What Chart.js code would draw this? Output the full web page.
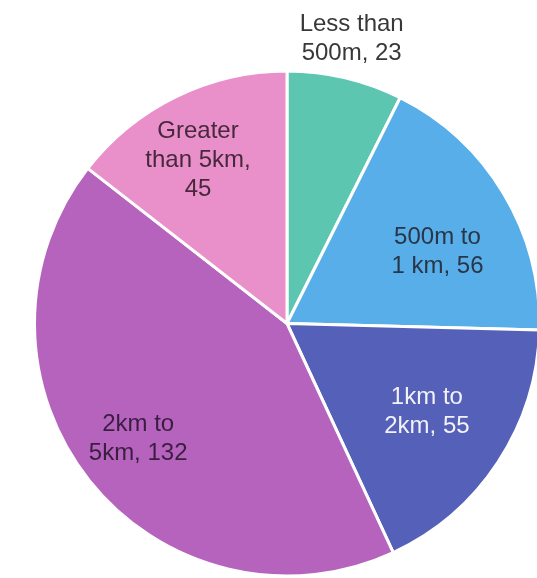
<!DOCTYPE html>
<html>
<head>
<meta charset="utf-8">
<script src="https://cdn.jsdelivr.net/npm/chart.js@4.4.1/dist/chart.umd.min.js"></script>
<style>
    html, body { margin: 0; padding: 0; background: #ffffff; overflow: hidden; }
    #wrap { position: relative; width: 537px; height: 578px; overflow: hidden; }
    #distanceChart { position: absolute; left: 0; top: 0; }
</style>
</head>
<body>
<div id="wrap">
    <canvas id="distanceChart" width="580" height="600"></canvas>
</div>
<script>
// Distance travelled - number of responses per band
const categories = ['Less than 500m', '500m to 1 km', '1km to 2km', '2km to 5km', 'Greater than 5km'];
const counts = [23, 56, 55, 132, 45];

// Label text, split into lines as drawn on the slices
const labelLines = [
    ['Less than', '500m, 23'],
    ['500m to', '1 km, 56'],
    ['1km to', '2km, 55'],
    ['2km to', '5km, 132'],
    ['Greater', 'than 5km,', '45']
];

const sliceColors = ['#5cc6b0', '#58aee8', '#5561b8', '#b663be', '#e98fca'];
const labelColors = ['#383838', '#283648', '#f2f2f8', '#3a1e40', '#48283c'];

// where each label sits: fraction of the radius, and a small turn (degrees) off the slice middle
const labelRadius = [1.155, 0.66, 0.656, 0.745, 0.735];
const labelTurn = [-0.5, 5.5, -0.9, 0.8, -2.6];

const sliceLabels = {
    id: 'sliceLabels',
    afterDatasetsDraw(chart) {
        const ctx = chart.ctx;
        const meta = chart.getDatasetMeta(0);
        ctx.save();
        ctx.font = '24px "Liberation Sans", Arial, sans-serif';
        ctx.textAlign = 'center';
        ctx.textBaseline = 'middle';
        meta.data.forEach((arc, i) => {
            const mid = (arc.startAngle + arc.endAngle) / 2 + labelTurn[i] * Math.PI / 180;
            const r = arc.outerRadius * labelRadius[i];
            const cx = arc.x + Math.cos(mid) * r;
            const cy = arc.y + Math.sin(mid) * r;
            const lines = labelLines[i];
            const lh = 29;
            ctx.fillStyle = labelColors[i];
            lines.forEach((line, j) => {
                ctx.fillText(line, cx, cy + (j - (lines.length - 1) / 2) * lh);
            });
        });
        ctx.restore();
    }
};

const ctx = document.getElementById('distanceChart').getContext('2d');

new Chart(ctx, {
    type: 'pie',
    data: {
        labels: categories,
        datasets: [{
            data: counts,
            backgroundColor: sliceColors,
            borderColor: '#ffffff',
            borderWidth: 3
        }]
    },
    options: {
        responsive: false,
        animation: false,
        layout: {
            padding: { left: 33, top: 69, right: 39, bottom: 22 }
        },
        plugins: {
            legend: { display: false },
            tooltip: { enabled: false }
        }
    },
    plugins: [sliceLabels]
});
</script>
</body>
</html>
